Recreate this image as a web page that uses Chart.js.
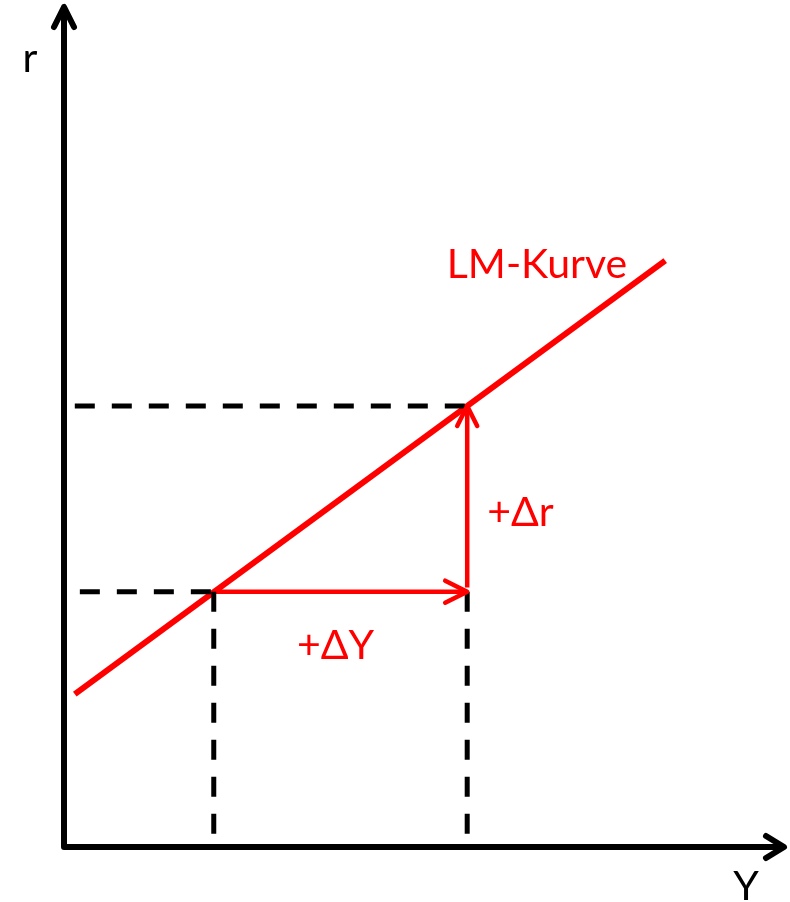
<!DOCTYPE html>
<html>
<head>
<meta charset="utf-8">
<script src="https://cdn.jsdelivr.net/npm/chart.js@4/dist/chart.umd.min.js"></script>
<style>
  html, body { margin: 0; padding: 0; background: #fff; }
  #wrap { width: 790px; height: 902px; }
</style>
</head>
<body>
<div id="wrap"><canvas id="lm"></canvas></div>
<script>
// income levels Y1 -> Y2 and interest rates r1 -> r2
const incomeY = [2.08, 5.6]
const rateR = [3.04, 5.25]
// LM curve end points
const curveY = [0.15, 8.35]
const curveR = [1.82, 6.98]
// where the horizontal guides start (r1, r2)
const guideStartY = [0.22, 0.15]
const axisMax = { x: 10, y: 10 }

const RED = "#ff0000"
const FONT = "Lato, 'Open Sans', sans-serif"

function seg(x1, y1, x2, y2) {
  return [{ x: x1, y: y1 }, { x: x2, y: y2 }]
}

const dashed = {
  borderColor: "#000",
  borderWidth: 5,
  borderDash: [20, 17],
  borderCapStyle: "butt",
  pointRadius: 0,
  showLine: true,
}

const datasets = [
  // guides
  { ...dashed, data: seg(guideStartY[0], rateR[0], incomeY[0], rateR[0]) },
  { ...dashed, data: seg(guideStartY[1], rateR[1], incomeY[1], rateR[1]) },
  { ...dashed, data: seg(incomeY[0], rateR[0], incomeY[0], 0) },
  { ...dashed, data: seg(incomeY[1], rateR[0], incomeY[1], 0) },
  // LM curve
  {
    data: curveY.map((x, i) => ({ x, y: curveR[i] })),
    borderColor: RED, borderWidth: 6, pointRadius: 0, showLine: true,
  },
  // +dY and +dr arrows
  {
    data: seg(incomeY[0], rateR[0], incomeY[1], rateR[0]),
    borderColor: RED, borderWidth: 4.5, pointRadius: 0, showLine: true,
  },
  {
    data: seg(incomeY[1], rateR[0] + 0.05, incomeY[1], rateR[1]),
    borderColor: RED, borderWidth: 4.5, pointRadius: 0, showLine: true,
  },
]

function head(ctx, tx, ty, dx, dy, len, half) {
  // chevron with its tip at (tx, ty), pointing along (dx, dy)
  const nx = -dy, ny = dx
  ctx.beginPath()
  ctx.moveTo(tx - dx * len + nx * half, ty - dy * len + ny * half)
  ctx.lineTo(tx, ty)
  ctx.lineTo(tx - dx * len - nx * half, ty - dy * len - ny * half)
  ctx.stroke()
}

const diagram = {
  id: "diagram",
  beforeDatasetsDraw(chart) {
    const { ctx, scales: { x, y } } = chart
    const x0 = x.getPixelForValue(0), y0 = y.getPixelForValue(0)
    const xEnd = x.getPixelForValue(axisMax.x), yEnd = y.getPixelForValue(axisMax.y)
    ctx.save()
    ctx.strokeStyle = "#000"
    ctx.lineWidth = 6
    ctx.lineCap = "round"
    ctx.lineJoin = "round"
    ctx.beginPath()
    ctx.moveTo(x0, yEnd + 2)
    ctx.lineTo(x0, y0)
    ctx.lineTo(xEnd - 2, y0)
    ctx.stroke()
    head(ctx, x0, yEnd, 0, -1, 20, 10)
    head(ctx, xEnd, y0, 1, 0, 18, 11)
    ctx.restore()
  },
  afterDatasetsDraw(chart) {
    const { ctx, scales: { x, y } } = chart
    ctx.save()
    ctx.strokeStyle = RED
    ctx.lineWidth = 4.5
    ctx.lineCap = "round"
    ctx.lineJoin = "round"
    head(ctx, x.getPixelForValue(incomeY[1]), y.getPixelForValue(rateR[0]), 1, 0, 22, 11)
    head(ctx, x.getPixelForValue(incomeY[1]), y.getPixelForValue(rateR[1]), 0, -1, 20, 10)

    ctx.font = "41px " + FONT
    ctx.fillStyle = RED
    ctx.textAlign = "center"
    ctx.textBaseline = "alphabetic"
    ctx.fillText("LM-Kurve", 537, 278)
    const midY = (x.getPixelForValue(incomeY[0]) + x.getPixelForValue(incomeY[1])) / 2
    ctx.fillText("+ΔY", midY - 5, 659)
    ctx.textAlign = "left"
    ctx.fillText("+Δr", x.getPixelForValue(incomeY[1]) + 20, 526)

    ctx.fillStyle = "#000"
    ctx.textAlign = "center"
    ctx.fillText("r", 30, 72)
    ctx.fillText("Y", 746, 900)
    ctx.restore()
  },
}

new Chart(document.getElementById("lm"), {
  type: "scatter",
  data: { datasets },
  options: {
    responsive: true,
    maintainAspectRatio: false,
    animation: false,
    layout: { padding: { left: 64, right: 6, top: 7, bottom: 55 } },
    plugins: { legend: { display: false }, tooltip: { enabled: false } },
    scales: {
      x: { type: "linear", min: 0, max: axisMax.x, display: false },
      y: { type: "linear", min: 0, max: axisMax.y, display: false },
    },
  },
  plugins: [diagram],
})
</script>
</body>
</html>
